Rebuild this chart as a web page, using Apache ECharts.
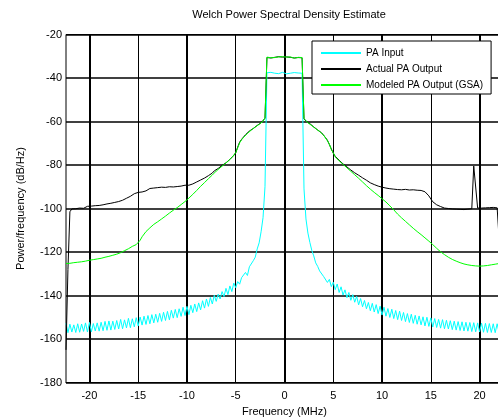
<!DOCTYPE html>
<html>
<head>
<meta charset="utf-8">
<script src="https://cdn.jsdelivr.net/npm/echarts@6/dist/echarts.min.js"></script>
<style>
html,body{margin:0;padding:0;background:#fff;}
#chart{width:498px;height:418px;}
</style>
</head>
<body>
<div id="chart"></div>
<script>
// Frequency grid (MHz): start and step of the evenly spaced PSD bins
const FREQ_START = -22.4;
const FREQ_STEP = 0.2;

const seriesNames = ['PA Input', 'Actual PA Output', 'Modeled PA Output (GSA)'];
const xTickValues = [-20, -15, -10, -5, 0, 5, 10, 15, 20];
const xMajorValues = [-20, -10, 0, 10, 20];

// PA Input PSD (dB/Hz)
const paInput = [
-152.8, -157.1, -153.2, -156.8, -153.5, -157.0, -153.0,
-156.9, -153.1, -156.5, -152.6, -156.8,
-152.4, -156.7, -152.9, -156.3, -152.6,
-156.4, -152.3, -156.2, -151.9, -156.0,
-151.7, -155.9, -151.8, -155.6, -151.5,
-155.4, -151.0, -155.3, -151.2, -154.9,
-150.5, -154.8, -150.7, -154.4, -150.2,
-154.0, -149.9, -153.6, -149.5, -153.3,
-149.2, -153.0, -148.8, -152.6, -148.6,
-152.3, -148.2, -151.9, -147.7, -151.5,
-147.3, -151.2, -146.8, -150.4, -146.4,
-150.2, -146.1, -149.6, -145.4, -149.2,
-145.0, -148.8, -144.5, -147.9, -143.9,
-147.4, -143.4, -146.6, -142.4, -145.8,
-141.6, -145.0, -140.9, -143.9, -139.9,
-142.7, -139.4, -141.6, -138.2, -140.5,
-136.7, -139.6, -135.6, -138.2, -134.3,
-136.4, -133.6, -134.8, -131.8, -132.7,
-129.4, -130.8, -126.8, -127.4, -124.0,
-122.4, -118.6, -115.8, -110.7, -104.2,
-90.0,
-37.6, -37.9, -37.4, -38.2, -37.8, -37.5, -38.0, -37.7, -37.4, -37.9,
-38.1, -37.6, -37.8, -38.0, -37.5, -37.9, -37.7, -37.6, -37.8,
-91.0,
-104.8, -111.3, -115.6, -119.3, -121.8,
-125.0, -126.6, -128.7, -129.6, -131.2,
-131.0, -134.0, -132.6, -135.9, -133.9,
-137.3, -134.7, -138.6, -136.0, -139.8,
-137.4, -141.0, -138.6, -142.2, -139.6,
-143.1, -140.4, -144.3, -141.4, -145.2,
-142.3, -146.1, -143.2, -147.0, -143.6,
-147.6, -144.2, -148.3, -144.9, -149.0,
-145.4, -149.5, -146.0, -150.1, -146.3,
-150.6, -146.9, -151.1, -147.2, -151.5,
-147.8, -152.0, -148.3, -152.4, -148.6,
-152.8, -149.1, -153.2, -149.4, -153.5,
-149.8, -154.0, -150.0, -154.2, -150.3,
-154.5, -150.6, -154.7, -151.0, -155.0,
-151.1, -155.3, -151.4, -155.4, -151.6,
-155.7, -151.8, -155.9, -152.0, -156.1,
-152.1, -156.3, -152.3, -156.4, -152.4,
-156.6, -152.5, -156.7, -152.6, -156.8,
-152.7, -156.9, -152.8, -157.0, -152.9,
-157.0, -153.0, -157.1, -153.0, -157.0,
-153.1, -156.8
];

// Actual PA Output PSD (dB/Hz)
const paOutput = [
-165.0, -128.0, -101.5, -100.2,
-99.6, -100.1, -99.3, -99.8, -99.2, -99.9, -99.4, -99.0, -99.6, -98.9, -99.5, -98.7, -99.2, -98.6,
-98.9, -98.3, -98.8, -97.9, -98.4, -97.6, -98.0, -97.2, -97.5, -96.8,
-96.9, -96.2, -96.0, -95.3, -95.1, -94.4, -94.0, -93.2, -93.4, -92.6,
-92.1, -92.4, -91.6, -91.9, -91.2, -90.8, -91.3, -90.6, -90.9, -90.4,
-90.7, -90.2, -90.8, -90.3, -90.6, -90.0, -90.5, -90.1, -90.4, -89.9,
-90.2, -89.7, -89.9, -89.3,
-89.4, -89.3, -88.6, -88.7, -87.9, -87.8, -87.0, -86.9, -86.1, -86.0,
-85.3, -84.9, -84.0, -83.7, -82.7, -82.4, -81.6, -81.2, -80.2, -79.9,
-79.0, -78.5, -77.4, -76.9, -75.6, -74.4, -71.8, -69.5, -68.2, -67.6,
-66.1, -65.7, -64.4, -64.1, -63.2, -62.8, -61.8, -61.5, -60.6, -60.1,
-58.5,
-30.6, -30.1, -30.8, -30.3, -30.5, -30.9, -30.2, -30.6, -30.4, -30.8,
-30.3, -30.7, -30.5, -30.2, -30.8, -30.4, -30.6, -30.3, -30.7,
-58.8,
-59.8, -60.4, -61.0, -61.6, -62.5, -63.0, -63.9, -64.3, -65.2, -66.0,
-67.4, -68.6, -70.6, -72.6, -74.6, -76.0, -76.9, -77.8, -78.4, -79.5,
-80.0, -80.9, -81.4, -82.3, -82.8, -83.6, -83.9, -84.7, -85.1, -85.9,
-86.2, -87.0, -87.3, -88.2, -88.4, -89.0, -89.1, -89.7, -89.6, -90.2,
-90.0, -90.6, -90.3, -90.9, -90.5, -91.1, -90.7, -91.3, -90.8, -91.4,
-90.9, -91.2, -90.8, -91.5, -91.0, -91.4, -90.9, -91.6, -91.2, -91.7,
-91.5, -92.3, -92.9, -94.2, -95.6, -96.9, -97.6, -98.3, -98.6, -99.1,
-99.3, -99.8, -99.5, -100.0, -99.7, -100.2, -99.8, -100.3, -100.0, -100.4,
-100.1, -100.5, -100.0, -100.3, -99.9, -100.1, -80.5, -80.0, -99.8, -99.4,
-99.8, -99.3, -99.7, -99.2, -99.6, -99.1, -99.5, -99.2, -99.7, -100.5,
-128.0, -165.0
];

// Modeled PA Output (GSA) PSD (dB/Hz)
const paModel = [
-125.3, -125.0, -125.2, -124.7, -124.9, -124.4, -124.7, -124.3, -124.5, -123.9,
-124.2, -123.6, -123.8, -123.3, -123.5, -123.0, -123.2, -122.7, -122.9, -122.3,
-122.4, -121.8, -122.0, -121.4, -121.5, -120.9, -121.0, -120.4, -120.3, -119.6,
-119.4, -118.7, -118.5, -117.6, -117.4, -116.7, -116.6, -115.7, -114.6, -113.0,
-112.1, -110.6, -110.0, -108.9, -108.4, -107.3, -107.0, -106.1, -105.7, -104.8,
-104.5, -103.5, -103.0, -102.1, -101.8, -100.8, -100.5, -99.6, -99.0, -98.2,
-97.8, -96.8, -96.2, -95.2, -94.6, -93.5, -92.8, -91.7, -91.0, -89.8,
-89.3, -88.1, -87.5, -86.3, -85.8, -84.6, -83.9, -82.8, -82.2, -81.3,
-80.6, -79.8, -79.2, -78.3, -77.6, -76.6, -75.8, -74.3, -72.1, -69.8,
-68.4, -67.3, -66.4, -65.5, -64.6, -63.9, -63.4, -62.6, -62.1, -61.3,
-60.8, -59.9,
-58.3,
-30.4, -30.0, -30.7, -30.2, -30.6, -30.8, -30.3, -30.5, -30.2, -30.7,
-30.4, -30.6, -30.3, -30.5, -30.9, -30.3, -30.5, -30.2, -30.6,
-58.6,
-59.6, -60.6, -60.9, -61.9, -62.3, -63.3, -63.6, -64.6, -65.0, -66.2,
-67.1, -68.9, -70.4, -72.9, -74.3, -76.3, -76.8, -78.1, -78.6, -79.7,
-80.2, -81.3, -81.9, -82.9, -83.5, -84.5, -85.0, -86.1, -86.7, -87.8,
-88.4, -89.5, -90.1, -91.1, -91.8, -92.6, -93.3, -94.0, -94.5, -95.5,
-96.1, -97.0, -97.8, -98.8, -99.5, -100.6, -101.4, -102.6, -103.2, -104.3,
-104.8, -105.9, -106.5, -107.5, -108.0, -109.1, -109.5, -110.6, -110.9, -112.0,
-112.4, -113.5, -113.9, -115.0, -115.5, -116.6, -117.1, -118.3, -118.8, -119.9,
-120.3, -121.2, -121.6, -122.4, -122.7, -123.4, -123.6, -124.2, -124.3, -124.9,
-124.9, -125.5, -125.4, -125.9, -125.7, -126.2, -125.9, -126.4, -126.1, -126.5,
-126.1, -126.4, -125.9, -126.2, -125.6, -125.9, -125.3, -125.6, -125.0, -125.3,
-124.8, -125.0
];

function toPairs(vals) {
  return vals.map(function (v, i) { return [+(FREQ_START + i * FREQ_STEP).toFixed(2), v]; });
}

const FONT = 'Liberation Sans, Arial, Helvetica, sans-serif';
const chart = echarts.init(document.getElementById('chart'), null, { renderer: 'canvas' });

const xMin = FREQ_START;
const xMax = -FREQ_START;

chart.setOption({
  animation: false,
  backgroundColor: '#fff',
  textStyle: { fontFamily: FONT },
  title: {
    text: 'Welch Power Spectral Density Estimate',
    left: 284,
    top: 4,
    textAlign: 'center',
    textStyle: { fontFamily: FONT, fontSize: 11, fontWeight: 'normal', color: '#000' }
  },
  legend: {
    data: seriesNames,
    orient: 'vertical',
    left: 312,
    top: 41,
    padding: [7, 8, 4, 8],
    itemWidth: 40,
    itemHeight: 11,
    itemGap: 6,
    backgroundColor: '#fff',
    borderColor: '#000',
    borderWidth: 1,
    borderRadius: 0,
    itemStyle: { opacity: 0 },
    lineStyle: { opacity: 1 },
    textStyle: { fontFamily: FONT, fontSize: 10, color: '#000' },
    z: 10
  },
  grid: {
    left: 66,
    top: 34.5,
    width: 437,
    height: 348,
    show: true,
    borderColor: '#000',
    borderWidth: 1,
    containLabel: false,
    outerBoundsMode: 'none'
  },
  xAxis: [
    {
      type: 'value',
      min: xMin,
      max: xMax,
      name: 'Frequency (MHz)',
      nameLocation: 'middle',
      nameGap: 17,
      nameTextStyle: { fontFamily: FONT, fontSize: 11, color: '#000' },
      axisLine: { show: true, onZero: false, lineStyle: { color: '#000', width: 1 } },
      axisTick: { show: false, customValues: xTickValues },
      axisLabel: { customValues: xTickValues, fontFamily: FONT, fontSize: 11, color: '#000', margin: 8 },
      splitLine: { show: true, lineStyle: { color: '#000', width: 1 } }
    },
    {
      type: 'value',
      min: xMin,
      max: xMax,
      position: 'bottom',
      axisLine: { show: false },
      axisTick: { show: false, customValues: xMajorValues },
      axisLabel: { show: false, customValues: xMajorValues },
      splitLine: { show: true, lineStyle: { color: '#000', width: 2 } }
    }
  ],
  yAxis: {
    type: 'value',
    min: -180,
    max: -20,
    interval: 20,
    name: 'Power/frequency (dB/Hz)',
    nameLocation: 'middle',
    nameGap: 40,
    nameTextStyle: { fontFamily: FONT, fontSize: 11, color: '#000' },
    axisLine: { show: true, lineStyle: { color: '#000', width: 1 } },
    axisTick: { show: false },
    axisLabel: { fontFamily: FONT, fontSize: 11, color: '#000', margin: 4 },
    splitLine: { show: true, lineStyle: { color: '#000', width: 1.5 } }
  },
  series: [
    {
      name: seriesNames[0],
      type: 'line',
      data: toPairs(paInput),
      showSymbol: false,
      symbol: 'none',
      sampling: null,
      lineStyle: { color: '#00ffff', width: 1 },
      itemStyle: { color: '#00ffff' },
      z: 3
    },
    {
      name: seriesNames[1],
      type: 'line',
      data: toPairs(paOutput),
      showSymbol: false,
      symbol: 'none',
      lineStyle: { color: '#000000', width: 1 },
      itemStyle: { color: '#000000' },
      z: 4
    },
    {
      name: seriesNames[2],
      type: 'line',
      data: toPairs(paModel),
      showSymbol: false,
      symbol: 'none',
      lineStyle: { color: '#00ff00', width: 1 },
      itemStyle: { color: '#00ff00' },
      z: 5
    }
  ]
});
</script>
</body>
</html>
